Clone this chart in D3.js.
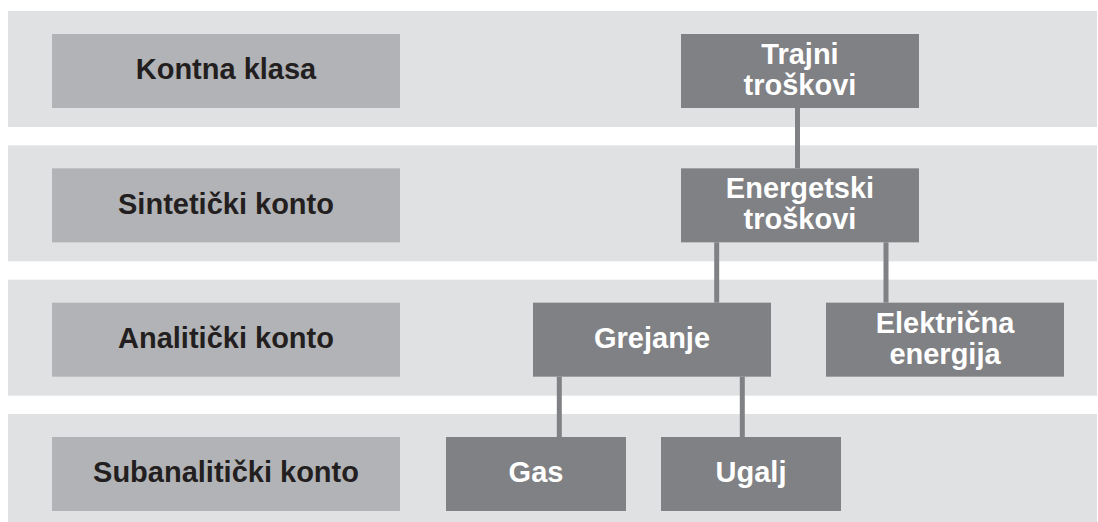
<!DOCTYPE html>
<html>
<head>
<meta charset="utf-8">
<script src="https://cdn.jsdelivr.net/npm/d3@7"></script>
<style>
  html, body { margin: 0; padding: 0; background: #ffffff; }
  svg { display: block; }
</style>
</head>
<body>
<svg id="chart" width="1098" height="522"></svg>
<script>
// ---- data ----
const levelLabels = ["Kontna klasa", "Sintetički konto", "Analitički konto", "Subanalitički konto"];
const nodeNames   = ["Trajni troškovi", "Energetski troškovi", "Grejanje", "Električna energija", "Gas", "Ugalj"];
const nodeLevels  = [0, 1, 2, 2, 3, 3];
const nodeParents = [null, "Trajni troškovi", "Energetski troškovi", "Energetski troškovi", "Grejanje", "Grejanje"];

// ---- layout (pixel geometry, kept apart from data) ----
const W = 1098, H = 522;
const nodeSpan = {               // horizontal extent of each node box
  "Trajni troškovi":     [681, 919],
  "Energetski troškovi": [681, 919],
  "Grejanje":            [533, 771],
  "Električna energija": [826, 1064],
  "Gas":                 [446, 626],
  "Ugalj":               [661, 841]
};
const linkAt = {                 // x position of the connector that reaches each child
  "Energetski troškovi": 797.5,
  "Grejanje":            716.7,
  "Električna energija": 886,
  "Gas":                 559.3,
  "Ugalj":               742.3
};

const colors = {
  band: "#e0e1e3",
  labelBox: "#b2b3b6",
  node: "#808184",
  link: "#808184",
  labelText: "#231f20",
  nodeText: "#ffffff"
};
const fontSize = 29, lineH = 31, capH = fontSize * 0.716;
const boxOffset = 23, boxH = 74;

const svg = d3.select("#chart");

const x = d3.scaleLinear().domain([0, W]).range([0, W]);
const y = d3.scaleBand()
  .domain(d3.range(levelLabels.length))
  .range([11, 530])
  .paddingInner(0.1365)
  .paddingOuter(0);

// bands
svg.append("g").selectAll("rect")
  .data(levelLabels)
  .join("rect")
  .attr("x", x(8))
  .attr("width", x(1097) - x(8))
  .attr("y", (d, i) => y(i))
  .attr("height", y.bandwidth())
  .attr("fill", colors.band);

// level label boxes
const lab = svg.append("g").selectAll("g")
  .data(levelLabels)
  .join("g");
lab.append("rect")
  .attr("x", x(52))
  .attr("width", x(400) - x(52))
  .attr("y", (d, i) => y(i) + boxOffset)
  .attr("height", boxH)
  .attr("fill", colors.labelBox);
lab.append("text")
  .attr("x", x(226))
  .attr("y", (d, i) => y(i) + boxOffset + boxH / 2 + capH / 2 - 2)
  .attr("text-anchor", "middle")
  .attr("font-family", "'Liberation Sans', Arial, sans-serif")
  .attr("font-weight", "bold")
  .attr("font-size", fontSize)
  .attr("fill", colors.labelText)
  .text(d => d);

// hierarchy
const table = nodeNames.map((n, i) => ({ id: n, parentId: nodeParents[i], level: nodeLevels[i] }));
const root = d3.stratify().id(d => d.id).parentId(d => d.parentId)(table);

const boxTop = d => y(d.data.level) + boxOffset;

// links
svg.append("g").selectAll("line")
  .data(root.links())
  .join("line")
  .attr("x1", d => x(linkAt[d.target.id]))
  .attr("x2", d => x(linkAt[d.target.id]))
  .attr("y1", d => boxTop(d.source) + boxH)
  .attr("y2", d => boxTop(d.target))
  .attr("stroke", colors.link)
  .attr("stroke-width", 5);

// nodes
const node = svg.append("g").selectAll("g")
  .data(root.descendants())
  .join("g");
node.append("rect")
  .attr("x", d => x(nodeSpan[d.id][0]))
  .attr("width", d => x(nodeSpan[d.id][1]) - x(nodeSpan[d.id][0]))
  .attr("y", boxTop)
  .attr("height", boxH)
  .attr("fill", colors.node);
node.each(function (d) {
  const lines = d.id.split(" ");
  const cx = x((nodeSpan[d.id][0] + nodeSpan[d.id][1]) / 2);
  const cy = boxTop(d) + boxH / 2;
  const first = cy - (lines.length - 1) * lineH / 2 + capH / 2 - 2;
  const t = d3.select(this).append("text")
    .attr("text-anchor", "middle")
    .attr("font-family", "'Liberation Sans', Arial, sans-serif")
    .attr("font-weight", "bold")
    .attr("font-size", fontSize)
    .attr("fill", colors.nodeText);
  lines.forEach((ln, k) => {
    t.append("tspan").attr("x", cx).attr("y", first + k * lineH).text(ln);
  });
});
</script>
</body>
</html>
